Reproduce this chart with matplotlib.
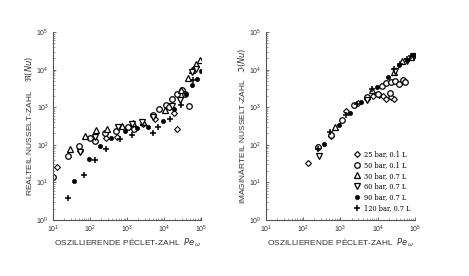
import matplotlib
matplotlib.use('Agg')
import matplotlib.pyplot as plt
from matplotlib.ticker import LogLocator, NullFormatter

# series labels
labels = ['25 bar, 0.1 L', '50 bar, 0.1 L', '30 bar, 0.7 L',
          '60 bar, 0.7 L', '90 bar, 0.7 L', '120 bar, 0.7 L']

# left panel: real part of Nusselt number vs Pe_omega
re_pe_25 = [12.8, 55, 270, 520, 2700, 5600, 18000, 21700]
re_nu_25 = [26, 68, 147, 160, 350, 500, 680, 260]
re_pe_50 = [10, 26, 51, 101, 132, 260, 500, 1090, 1500, 5100, 7200, 11000, 13800, 16000, 21700, 30000, 37000, 47000]
re_nu_50 = [14, 50, 94, 147, 127, 200, 230, 290, 270, 620, 920, 1130, 1000, 1620, 2240, 2800, 2300, 1070]
re_pe_30 = [28, 71, 144, 285, 720, 1480, 2750, 10500, 29000, 43000, 58000, 74000, 91000]
re_nu_30 = [75, 170, 245, 270, 315, 370, 400, 830, 2950, 6100, 10000, 13800, 17800]
re_pe_60 = [54, 135, 560, 1330, 2570, 5100, 16000, 27000, 55000, 74000]
re_nu_60 = [65, 163, 300, 355, 410, 550, 1070, 1590, 8700, 10500]
re_pe_90 = [36, 91, 182, 365, 900, 1900, 3600, 9500, 18600, 40000, 56000, 75000, 98000]
re_nu_90 = [11, 42, 92, 156, 235, 280, 300, 425, 870, 2220, 3800, 5800, 9200]
re_pe_120 = [26, 67, 138, 270, 650, 1380, 4900, 7000, 14400, 29000, 60000]
re_nu_120 = [3.8, 15.6, 39, 76, 141, 180, 212, 290, 480, 1130, 5200]

# right panel: imaginary part of Nusselt number vs Pe_omega
im_pe_25 = [131, 252, 540, 1440, 2950, 5000, 7400, 10700, 13900, 17000, 23000, 26500]
im_nu_25 = [32, 90, 174, 770, 1290, 1700, 1950, 2140, 1950, 1630, 1820, 1630]
im_pe_50 = [252, 540, 1120, 2300, 5100, 10000, 13000, 16300, 21000, 22000, 29000, 38000, 48000, 55000]
im_nu_50 = [86, 185, 460, 1130, 1860, 2220, 3700, 4400, 2360, 4600, 4900, 4100, 5400, 4800]
im_pe_30 = [700, 6800, 26500, 45000, 79000]
im_nu_30 = [290, 2800, 8500, 16600, 21500]
im_pe_60 = [265, 5200, 29000, 59000, 91000]
im_nu_60 = [49, 1580, 9000, 16600, 22500]
im_pe_90 = [365, 910, 1780, 3640, 9400, 18300, 36000, 62000, 91000]
im_nu_90 = [104, 340, 690, 1380, 3400, 6200, 13000, 17700, 24000]
im_pe_120 = [252, 515, 1380, 2850, 7100, 26500, 40000, 61000, 80000]
im_nu_120 = [76, 213, 620, 1240, 3000, 10200, 13700, 19000, 23500]

styles = [dict(marker='D', ms=3.0, mfc='white', mec='black', mew=0.8),
          dict(marker='o', ms=4.0, mfc='white', mec='black', mew=0.9),
          dict(marker='^', ms=4.2, mfc='white', mec='black', mew=0.9),
          dict(marker='v', ms=4.2, mfc='white', mec='black', mew=0.9),
          dict(marker='o', ms=3.0, mfc='black', mec='black', mew=0.5),
          dict(marker='+', ms=3.8, mfc='black', mec='black', mew=1.1)]

gray = '#333333'
plt.rcParams['font.family'] = ['Liberation Sans', 'DejaVu Sans']

fig = plt.figure(figsize=(4.69, 2.76), dpi=100)
ax1 = fig.add_axes([0.113, 0.203, 0.316, 0.681])
ax2 = fig.add_axes([0.567, 0.203, 0.318, 0.681])

left_data = [(re_pe_25, re_nu_25), (re_pe_50, re_nu_50), (re_pe_30, re_nu_30),
             (re_pe_60, re_nu_60), (re_pe_90, re_nu_90), (re_pe_120, re_nu_120)]
right_data = [(im_pe_25, im_nu_25), (im_pe_50, im_nu_50), (im_pe_30, im_nu_30),
              (im_pe_60, im_nu_60), (im_pe_90, im_nu_90), (im_pe_120, im_nu_120)]

for (x, y), st in zip(left_data, styles):
    ax1.plot(x, y, ls='none', **st)
for (x, y), st, lab in zip(right_data, styles, labels):
    ax2.plot(x, y, ls='none', label=lab, **st)

for ax in (ax1, ax2):
    ax.set_xscale('log')
    ax.set_yscale('log')
    ax.set_xlim(10, 1e5)
    ax.set_ylim(1, 1e5)
    ax.spines['top'].set_visible(False)
    ax.spines['right'].set_visible(False)
    ax.spines['left'].set_color('#555555')
    ax.spines['bottom'].set_color('#555555')
    ax.xaxis.set_major_locator(LogLocator(base=10, numticks=10))
    ax.yaxis.set_major_locator(LogLocator(base=10, numticks=10))
    ax.xaxis.set_minor_locator(LogLocator(base=10, subs=range(2, 10), numticks=20))
    ax.yaxis.set_minor_locator(LogLocator(base=10, subs=range(2, 10), numticks=20))
    ax.xaxis.set_minor_formatter(NullFormatter())
    ax.yaxis.set_minor_formatter(NullFormatter())
    ax.tick_params(which='major', direction='in', length=2.5, width=0.6, labelsize=5,
                   colors='#555555', labelcolor=gray, pad=3)
    ax.tick_params(which='minor', direction='in', length=1.2, width=0.4, colors='#555555')
    ax.set_xlabel(r'OSZILLIERENDE PÉCLET-ZAHL  $Pe_{\omega}$', fontsize=6, color=gray, labelpad=1)

ax1.set_ylabel(r'REALTEIL NUSSELT-ZAHL    $\Re(Nu)$', fontsize=6, color=gray, labelpad=1)
ax2.set_ylabel(r'IMAGINÄRTEIL NUSSELT-ZAHL   $\Im(Nu)$', fontsize=6, color=gray, labelpad=1)

leg = ax2.legend(loc='lower left', bbox_to_anchor=(0.58, 0.035), frameon=False,
                 prop={'family': 'DejaVu Serif', 'size': 4.8}, labelspacing=0.42,
                 handletextpad=0.6, handlelength=0.9, borderaxespad=0.0, borderpad=0.2)

fig.savefig('out.png', dpi=100)
